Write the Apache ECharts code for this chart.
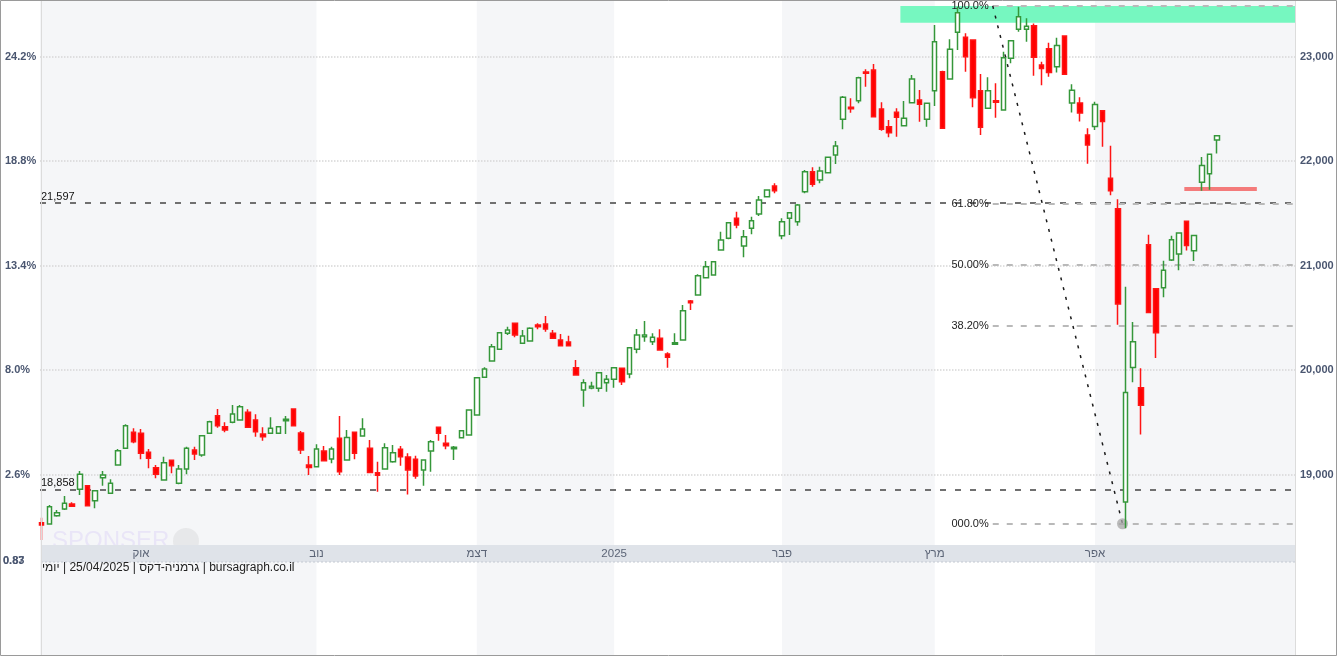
<!DOCTYPE html>
<html><head><meta charset="utf-8">
<script src="https://cdn.jsdelivr.net/npm/echarts@6/dist/echarts.min.js"></script>
<style>html,body{margin:0;padding:0;background:#fff;}#c{width:1337px;height:656px;}</style>
</head><body><div id="c"></div>
<script>
// ---- data (DAX daily, index 0 = 12/09/2024 ... 154 = 25/04/2025)
const opens = [18540,18527,18607,18671,18719,18860,18894,18750,18970,18821,19092,19252,19405,19395,19214,19066,18949,19137,18917,19054,19236,19188,19395,19564,19459,19500,19523,19596,19523,19389,19395,19395,19516,19628,19398,19092,19076,19226,19149,19348,19140,19405,19370,19252,19018,19054,19124,19242,19169,19147,19044,19226,19453,19300,19248,19353,19379,19570,19931,20087,20199,20352,20448,20257,20279,20432,20441,20352,20288,20269,20023,19810,19829,19826,19880,19912,20017,19963,20199,20320,20272,20304,20154,20247,20288,20661,20719,20884,20910,21149,21261,21453,21188,21357,21494,21659,21762,21286,21453,21420,21707,21899,21819,21889,22058,22400,22515,22578,22853,22872,22499,22329,22467,22339,22559,22585,22400,22674,22856,22786,23233,23185,23159,22674,22505,22578,22489,22984,23261,23261,23294,22919,23074,22903,23197,22557,22557,22250,22331,22483,21836,21545,18738,20025,19831,21199,20779,20788,21053,21112,21425,21141,21797,21878,22201];
const highs = [18588,18709,18661,18795,18735,19035,18896,18846,19035,18955,19245,19482,19443,19437,19245,19092,19171,19137,19092,19267,19267,19379,19516,19628,19500,19666,19666,19625,19577,19453,19549,19465,19561,19635,19417,19178,19290,19274,19267,19561,19427,19405,19539,19331,19124,19300,19283,19274,19204,19180,19147,19331,19453,19379,19274,19427,19625,19934,20027,20250,20358,20415,20448,20384,20410,20448,20518,20384,20346,20329,20097,19912,19889,19975,19953,20023,20017,20215,20393,20470,20352,20391,20170,20352,20623,20671,20917,21044,21037,21325,21411,21516,21341,21468,21666,21730,21788,21453,21506,21590,21915,21941,21947,22036,22192,22623,22601,22808,22879,22929,22563,22393,22505,22575,22824,22680,22559,23302,22865,23166,23478,23223,23159,22833,22802,22745,23047,23152,23478,23367,23317,22951,23133,23181,23197,22735,22612,22314,22567,22483,22146,21635,20797,20460,20019,21296,20779,21047,21286,21312,21425,21289,22040,22072,22250];
const lows = [18374,18527,18597,18661,18690,18805,18700,18678,18894,18821,19085,19245,19300,19147,19060,18965,18949,19013,18907,19003,19140,19171,19395,19449,19405,19491,19516,19446,19363,19325,19395,19389,19389,19468,19197,18996,19076,19133,19108,18996,19140,19147,19370,19020,18837,19054,19114,19085,18810,18961,18894,19028,19325,19242,19140,19347,19379,19570,19931,20087,20199,20336,20314,20257,20279,20391,20368,20304,20234,20234,19953,19650,19817,19793,19793,19832,19858,19922,20161,20272,20240,20186,20023,20240,20288,20575,20719,20884,20910,21149,21252,21357,21080,21300,21474,21654,21692,21252,21293,21382,21692,21755,21788,21883,21972,22304,22463,22553,22712,22419,22291,22228,22234,22339,22559,22377,22329,22527,22314,22786,23063,22856,22515,22250,22505,22415,22489,22936,23238,23143,22816,22725,22806,22848,22832,22466,22379,21975,22298,22137,21674,20433,18486,19885,19385,20552,20116,20698,21043,20956,21144,21044,21716,21726,22072];
const closes = [18519,18693,18636,18726,18697,19003,18702,18846,18996,18917,19229,19468,19315,19204,19156,19003,19114,19085,19054,19252,19197,19372,19506,19468,19427,19580,19650,19453,19411,19363,19443,19459,19529,19468,19236,19068,19245,19133,19245,19028,19355,19204,19437,19020,18994,19258,19210,19171,19044,18987,19140,19314,19395,19277,19261,19420,19618,19927,20011,20224,20358,20384,20336,20326,20400,20415,20393,20304,20234,20234,19953,19880,19845,19975,19912,20023,19889,20215,20336,20336,20314,20192,20123,20262,20569,20645,20903,20990,21037,21245,21411,21389,21277,21430,21628,21724,21717,21420,21506,21580,21899,21778,21905,22036,22145,22611,22501,22798,22840,22425,22304,22272,22419,22410,22786,22544,22553,23143,22314,23070,23420,22999,22607,22323,22674,22563,22990,23152,23382,23290,22994,22887,22848,23107,22832,22677,22460,22153,22541,22379,21716,20633,19785,20271,19663,20552,20358,20956,21247,21312,21192,21289,21959,22065,22243];

const basePrice = 18518.5;                       // 0% reference for the left scale
const priceTicks = [19000, 20000, 21000, 22000, 23000];
const monthTickIdx = [13, 36, 57, 75, 97, 117, 138];
const monthTickLabels = ['אוק', 'נוב', 'דצמ', '2025', 'פבר', 'מרץ', 'אפר'];
const shadedSpans = [[null, 36], [57, 75], [97, 117], [138, null]];
const levelValues = [21597, 18858];
const levelLabels = ['21,597', '18,858'];
const fibHigh = 23485, fibLow = 18530, fibStartIdx = 124.6, fibEndIdx = 141.6;
const fibRatios = [1, 0.618, 0.5, 0.382, 0];
const fibLabels = ['100.0%', '61.80%', '50.00%', '38.20%', '000.0%'];
const zoneTop = 23485, zoneBottom = 23323, zoneStartIdx = 112.5;
const supportValue = 21733, supportFromIdx = 149.7, supportToIdx = 159.2;

// ---- axis ranges
const xMin = -0.223, xMax = 164.2;
const yMin = 17274, yMax = 23532;

const FONT = "'Liberation Sans', Arial, sans-serif";
const candles = opens.map((o, i) => [i, o, closes[i], lows[i], highs[i]]);

const gridLines = priceTicks.map(v => ({
  yAxis: v, lineStyle: { type: 'dotted', color: '#d6d6d6', width: 1.5 }, label: { show: false }
}));
const levelLineData = levelValues.map((v, k) => ({
  yAxis: v,
  lineStyle: { type: [6, 9], color: '#707070', width: 2 },
  label: { show: true, position: 'insideStartTop', formatter: levelLabels[k], color: '#111', fontSize: 11, fontFamily: FONT, distance: [1, 1] }
}));
const fibLineData = fibRatios.map((r, k) => {
  const v = fibLow + r * (fibHigh - fibLow);
  return [
    { coord: [fibStartIdx, v],
      lineStyle: { type: [6, 8], color: '#b9b9b9', width: 2 },
      label: { show: true, position: 'start', formatter: fibLabels[k], color: '#222', fontSize: 11, fontFamily: FONT, distance: 4 } },
    { coord: [xMax, v] }
  ];
});
const diagonal = [[
  { coord: [fibStartIdx, fibHigh], lineStyle: { type: [3, 7], color: '#1a1a1a', width: 1.5 }, label: { show: false } },
  { coord: [fibEndIdx, fibLow] }
]];
const support = [[
  { coord: [supportFromIdx, supportValue], lineStyle: { type: 'solid', color: '#f47b7b', width: 4 }, label: { show: false } },
  { coord: [supportToIdx, supportValue] }
]];

const chart = echarts.init(document.getElementById('c'), null, { renderer: 'canvas' });
chart.setOption({
  animation: false,
  backgroundColor: '#ffffff',
  grid: { left: 40, right: 42, top: 1, bottom: 1, containLabel: false },
  xAxis: {
    type: 'value', min: xMin, max: xMax, position: 'bottom', offset: -110, z: 10,
    axisLine: { show: false }, axisTick: { show: false }, splitLine: { show: false },
    axisLabel: {
      customValues: monthTickIdx, margin: 3, color: '#5b6476', fontSize: 11.5, fontFamily: FONT,
      formatter: v => { const k = monthTickIdx.indexOf(Math.round(v)); return k >= 0 ? monthTickLabels[k] : ''; }
    }
  },
  yAxis: [
    { type: 'value', position: 'left', min: yMin, max: yMax, z: 10,
      axisLine: { show: true, lineStyle: { color: '#dcdcdc', width: 1 } }, axisTick: { show: false }, splitLine: { show: false },
      axisLabel: { customValues: priceTicks, align: 'left', margin: 35, color: '#4a5670', fontSize: 11, fontWeight: 'bold', fontFamily: FONT,
        formatter: v => ((v / basePrice - 1) * 100).toFixed(1) + '%' } },
    { type: 'value', position: 'right', min: yMin, max: yMax, z: 10,
      axisLine: { show: true, lineStyle: { color: '#dcdcdc', width: 1 } }, axisTick: { show: false }, splitLine: { show: false },
      axisLabel: { customValues: priceTicks, margin: 5, color: '#4a5670', fontSize: 11, fontWeight: 'bold', fontFamily: FONT,
        formatter: v => v.toLocaleString('en-US') } }
  ],
  series: [
    { type: 'line', data: [], z: 1, silent: true,
      markArea: { silent: true, itemStyle: { color: '#f5f6f8' },
        data: shadedSpans.map(([a, b]) => [{ xAxis: a == null ? xMin : a }, { xAxis: b == null ? xMax : b }]) } },
    { type: 'line', data: [], z: 2, silent: true,
      markArea: { silent: true, itemStyle: { color: '#76f7c0' },
        data: [[{ coord: [zoneStartIdx, zoneTop] }, { coord: [xMax, zoneBottom] }]] } },
    { type: 'line', data: [], z: 3, silent: true,
      markLine: { silent: true, symbol: ['none', 'none'], animation: false,
        data: [...gridLines, ...levelLineData, ...fibLineData, ...diagonal, ...support] },
      markPoint: { silent: true, symbol: 'circle', symbolSize: 11, label: { show: false },
        itemStyle: { color: 'rgba(165,165,165,0.75)' },
        data: [{ coord: [fibEndIdx, fibLow] }] } },
    { type: 'candlestick', z: 5, data: candles, encode: { x: 0, y: [1, 2, 3, 4] },
      barWidth: 5,
      itemStyle: { color: '#ffffff', color0: '#ff0000', borderColor: '#35973a', borderColor0: '#ff1515', borderWidth: 1.5 } }
  ],
  graphic: [
    { type: 'rect', z: 8, shape: { x: 41, y: 545, width: 1254, height: 17 }, style: { fill: '#dfe3e9' } },
    { type: 'line', z: 8, shape: { x1: 41, y1: 562, x2: 1295, y2: 562 }, style: { stroke: '#c4c9d2', lineWidth: 1, lineDash: [2, 2] } },
    { type: 'text', z: 7, left: 52, top: 529, style: { text: 'SPONSER', font: "24px " + FONT, fill: '#e9e5f7' } },
    { type: 'circle', z: 7, shape: { cx: 186, cy: 541, r: 13 }, style: { fill: 'rgba(190,190,190,0.25)' } },
    { type: 'text', z: 9, left: 42, top: 562, style: { text: 'יומי\u200E | 25/04/2025 | גרמניה-דקס\u200E | bursagraph.co.il', font: "12px " + FONT, fill: '#222' } },
    { type: 'text', z: 9, left: 3, top: 555, style: { text: '0.83', font: "bold 11px " + FONT, fill: '#4a5670' } },
    { type: 'text', z: 9, left: 3, top: 555, style: { text: '0.87', font: "bold 11px " + FONT, fill: '#4a5670', opacity: 0.8 } },
    { type: 'rect', z: 20, shape: { x: 0.5, y: 0.5, width: 1336, height: 655 }, style: { fill: 'none', stroke: '#9a9a9a', lineWidth: 1 } }
  ]
});
</script></body></html>
